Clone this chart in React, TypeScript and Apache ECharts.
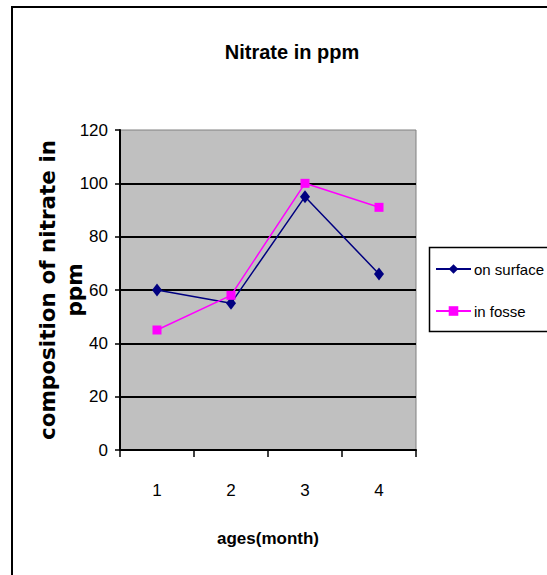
import React, { useEffect, useRef } from "react";
import * as echarts from "echarts";

const months = ["1", "2", "3", "4"];
const onSurface = [60, 55, 95, 66];
const inFosse = [45, 58, 100, 91];
const seriesNames = ["on surface", "in fosse"];

const NARROW = "'Liberation Sans Narrow', 'Arial Narrow', 'Liberation Sans', Arial, sans-serif";

export default function App() {
  const ref = useRef<HTMLDivElement>(null);
  useEffect(() => {
    if (!ref.current) return;
    const chart = echarts.init(ref.current, undefined, { renderer: "svg" });
    chart.setOption({
      animation: false,
      backgroundColor: "#ffffff",
      title: {
        text: "Nitrate in ppm",
        left: 287,
        textAlign: "center",
        top: 37,
        textStyle: { fontFamily: NARROW, fontSize: 20, fontWeight: "bold", color: "#000" },
      },
      graphic: [
        {
          type: "rect",
          shape: { x: 12, y: 7, width: 620, height: 620 },
          style: { fill: "none", stroke: "#000", lineWidth: 2 },
          silent: true,
        },
        {
          type: "rect",
          shape: { x: 429.5, y: 247.5, width: 160, height: 84 },
          style: { fill: "#fff", stroke: "#000", lineWidth: 1.5 },
          silent: true,
          z: 0,
        },
      ],
      legend: {
        orient: "vertical",
        left: 435,
        top: 260,
        itemWidth: 35,
        itemHeight: 12,
        itemGap: 24,
        padding: 0,
        z: 10,
        textStyle: { fontFamily: NARROW, fontSize: 15, color: "#000", lineHeight: 18, padding: [0, 0, 0, -2] },
        data: seriesNames,
      },
      grid: {
        left: 120,
        right: 131,
        top: 130,
        bottom: 125,
        show: true,
        backgroundColor: "#C0C0C0",
        borderColor: "#808080",
        borderWidth: 1,
        containLabel: false,
        outerBoundsMode: "none",
      },
      xAxis: {
        type: "category",
        data: months,
        boundaryGap: true,
        name: "ages(month)",
        nameLocation: "middle",
        nameGap: 80,
        nameMoveOverlap: false,
        nameTextStyle: { fontFamily: NARROW, fontSize: 17, fontWeight: "bold", color: "#000" },
        axisLine: { show: true, lineStyle: { color: "#000", width: 2 } },
        axisTick: { show: true, alignWithLabel: false, length: 7, lineStyle: { color: "#000", width: 1.5 } },
        axisLabel: { margin: 32, fontFamily: NARROW, fontSize: 17, color: "#000" },
        splitLine: { show: false },
      },
      yAxis: {
        type: "value",
        min: 0,
        max: 120,
        interval: 20,
        name: "composition of nitrate in\nppm",
        nameLocation: "middle",
        nameGap: 32,
        nameMoveOverlap: false,
        nameRotate: 90,
        nameTextStyle: {
          fontFamily: "'DejaVu Sans', sans-serif",
          fontSize: 21.5,
          fontWeight: "bold",
          color: "#000",
          lineHeight: 27,
          align: "center",
        },
        axisLine: { show: true, lineStyle: { color: "#000", width: 2 } },
        axisTick: { show: true, length: 5, lineStyle: { color: "#000", width: 1.5 } },
        axisLabel: { margin: 12, fontFamily: NARROW, fontSize: 17, color: "#000" },
        splitLine: { show: true, showMaxLine: false, lineStyle: { color: "#000", width: 1.8 } },
      },
      series: [
        {
          name: seriesNames[0],
          type: "line",
          data: onSurface,
          symbol: "diamond",
          symbolSize: [10, 13],
          lineStyle: { color: "#000080", width: 1.5 },
          itemStyle: { color: "#000080" },
          z: 3,
        },
        {
          name: seriesNames[1],
          type: "line",
          data: inFosse,
          symbol: "rect",
          symbolSize: 9,
          lineStyle: { color: "#FF00FF", width: 1.5 },
          itemStyle: { color: "#FF00FF" },
          z: 4,
        },
      ],
    });
    return () => chart.dispose();
  }, []);
  return <div ref={ref} style={{ width: 547, height: 575, position: "absolute", left: 0, top: 0 }} />;
}
